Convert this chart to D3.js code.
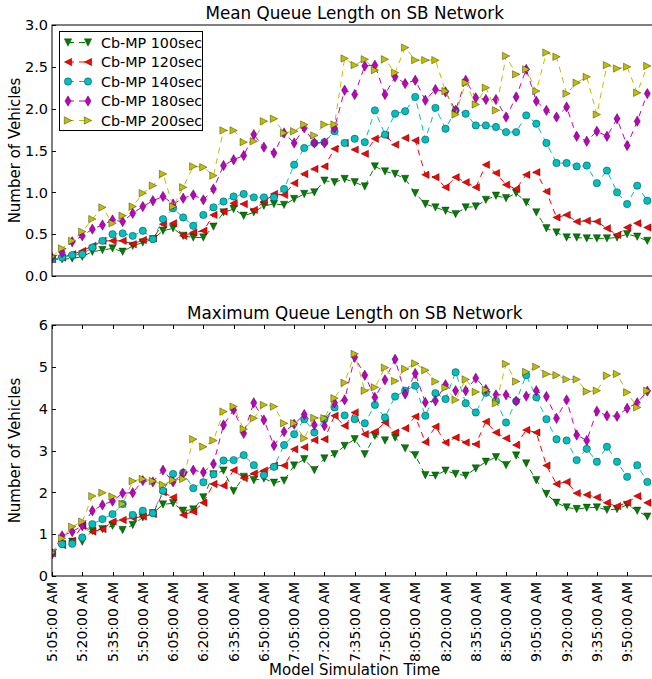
<!DOCTYPE html>
<html><head><meta charset="utf-8">
<script src="https://cdn.jsdelivr.net/npm/d3@7"></script>
<style>
html,body{margin:0;padding:0;background:#fff;}
svg{display:block;font-family:"DejaVu Sans",sans-serif;}
</style></head>
<body>
<svg id="chart" width="652" height="679"></svg>
<script>
// ---------- data ----------
const startMinutes = 5 * 60 + 5;   // 5:05 AM, 5-minute steps
const stepMinutes = 5;
const seriesNames = ["Cb-MP 100sec", "Cb-MP 120sec", "Cb-MP 140sec", "Cb-MP 180sec", "Cb-MP 200sec"];
const tickEvery = 3;

const mean100 = [0.20,0.20,0.21,0.23,0.29,0.31,0.33,0.29,0.36,0.40,0.44,0.54,0.57,0.48,0.46,0.46,0.59,0.76,0.80,0.72,0.76,0.84,0.86,0.85,0.92,0.98,1.00,1.14,1.12,1.16,1.12,1.07,1.31,1.25,1.22,1.16,0.99,0.86,0.82,0.78,0.74,0.82,0.83,0.91,0.96,0.93,0.99,0.88,0.76,0.57,0.52,0.46,0.46,0.45,0.45,0.45,0.46,0.50,0.47,0.42];
const mean120 = [0.20,0.22,0.26,0.30,0.36,0.42,0.42,0.42,0.38,0.43,0.45,0.62,0.63,0.48,0.52,0.54,0.73,0.77,0.87,0.86,0.79,0.89,0.98,0.97,1.11,1.22,1.28,1.31,1.52,1.59,1.51,1.46,1.64,1.68,1.57,1.65,1.62,1.21,1.18,1.06,1.18,1.12,1.06,1.33,1.23,1.09,1.04,1.21,1.24,1.01,0.70,0.73,0.65,0.66,0.65,0.57,0.49,0.58,0.63,0.58];
const mean140 = [0.20,0.22,0.25,0.26,0.34,0.42,0.50,0.51,0.48,0.54,0.44,0.68,0.81,0.70,0.60,0.73,0.82,0.89,0.95,0.98,0.94,0.94,0.94,1.04,1.33,1.53,1.59,1.60,1.73,1.59,1.64,1.60,1.98,1.69,1.94,1.97,2.14,1.63,2.01,1.76,1.98,1.94,1.80,1.80,1.78,1.72,1.72,1.92,1.82,1.59,1.35,1.35,1.31,1.32,1.11,1.26,1.00,0.86,1.08,0.90];
const mean180 = [0.22,0.28,0.41,0.48,0.56,0.61,0.67,0.65,0.75,0.83,0.90,0.95,0.86,0.93,0.97,0.91,1.04,1.32,1.39,1.44,1.69,1.54,1.47,1.71,1.59,1.77,1.59,1.59,1.77,2.22,2.17,2.51,2.52,2.17,2.38,2.30,2.34,2.10,2.23,2.20,1.98,2.34,2.13,2.11,2.11,1.90,2.14,2.47,2.09,1.98,1.90,2.02,1.67,1.61,1.73,1.67,1.88,1.56,1.85,2.18];
const mean200 = [0.23,0.33,0.42,0.53,0.68,0.82,0.63,0.72,0.83,0.99,1.08,1.22,0.83,1.06,1.31,1.30,1.20,1.74,1.74,1.60,1.61,1.85,1.88,1.71,1.73,1.81,1.68,1.81,1.81,2.60,2.52,2.59,2.46,2.59,2.43,2.73,2.58,2.58,2.58,2.21,1.93,2.31,2.05,2.25,1.98,2.63,2.41,2.47,2.21,2.67,2.62,2.18,2.31,2.38,1.93,2.52,2.48,2.50,2.19,2.51];

const max100 = [0.54,0.76,0.82,0.82,1.08,1.12,1.20,1.10,1.22,1.40,1.50,1.71,1.74,1.56,1.59,1.88,2.43,2.52,2.03,2.37,2.29,2.33,2.23,2.28,2.64,2.79,2.53,2.81,2.91,3.11,3.27,2.91,3.35,3.24,3.31,3.05,2.89,2.41,2.40,2.52,2.44,2.40,2.57,2.73,2.84,2.65,2.88,2.69,2.29,1.96,1.75,1.64,1.60,1.63,1.64,1.58,1.60,1.70,1.56,1.42];
const max120 = [0.54,0.74,0.84,1.20,1.06,1.12,1.30,1.34,1.39,1.42,1.48,2.00,1.88,1.46,1.54,1.75,2.20,2.16,2.53,2.34,2.45,2.52,2.64,2.64,3.03,3.08,3.25,3.27,3.83,3.59,3.91,3.39,3.45,3.67,3.43,3.53,3.81,3.20,3.57,3.19,3.31,3.19,3.15,3.69,3.43,3.29,3.13,3.49,3.43,2.64,2.20,2.25,1.98,1.94,1.88,1.75,1.67,1.75,1.91,1.75];
const max140 = [0.55,0.76,0.77,0.92,1.24,1.36,1.48,1.72,1.46,1.56,1.50,2.04,2.44,2.47,2.10,2.24,2.43,2.76,2.77,2.89,2.65,2.41,2.61,3.13,3.39,3.75,3.43,3.75,4.03,3.84,3.75,3.65,4.09,3.79,4.29,4.43,4.55,3.83,4.37,4.23,4.87,4.13,3.91,4.38,4.19,3.67,4.18,4.80,4.27,3.75,3.27,3.24,2.77,3.04,2.73,3.09,2.73,2.37,2.65,2.25];
const max180 = [0.53,0.96,1.06,1.20,1.56,1.70,1.79,1.98,1.99,2.28,2.25,2.53,2.25,2.45,2.53,2.48,2.68,3.61,3.97,3.41,4.14,3.73,3.12,3.45,3.63,3.86,3.61,3.59,4.14,4.21,5.23,4.80,4.27,4.69,5.18,4.35,4.84,4.15,4.19,4.57,4.43,4.43,4.73,4.46,4.33,4.33,4.18,4.30,4.43,4.29,3.77,4.21,3.37,3.24,3.94,3.83,3.82,4.01,4.14,4.42];
const max200 = [0.56,0.90,1.18,1.30,1.91,1.99,1.90,1.72,2.27,2.32,2.27,2.18,2.29,2.32,3.27,3.09,3.24,3.93,4.05,3.51,3.77,4.09,4.05,3.65,3.65,3.29,3.78,3.77,4.25,4.62,5.31,4.43,4.51,4.98,4.66,4.95,5.08,4.92,4.65,4.50,4.21,4.70,4.40,4.45,4.13,5.07,4.65,4.88,5.00,4.83,4.80,4.70,4.70,4.41,4.43,4.79,4.83,4.39,4.03,4.43];

const meanYTicks = [0.0,0.5,1.0,1.5,2.0,2.5,3.0];
const maxYTicks = [0,1,2,3,4,5,6];

// ---------- styles ----------
const colors = ["#008000","#ff0000","#00bfbf","#bf00bf","#bfbf00"];
const shapes = ["down","left","circle","diamond","right"];

function timeLabel(i){
  const m = startMinutes + i*stepMinutes;
  const h = Math.floor(m/60), mm = m%60;
  return h + ":" + String(mm).padStart(2,"0") + ":00 AM";
}

const svg = d3.select("#chart");
const left = 52, right = 657.4;
const nPts = mean100.length;
const x = d3.scaleLinear().domain([0, 60]).range([left, right]);

function markerPath(shape){
  const s = 3.7;
  switch(shape){
    case "down": return `M${-s},${-s}L${s},${-s}L0,${s}Z`;
    case "left": return `M${s},${-s}L${s},${s}L${-s},0Z`;
    case "right": return `M${-s},${-s}L${-s},${s}L${s},0Z`;
    case "diamond": return `M0,-5.2L3.1,0L0,5.2L-3.1,0Z`;
    case "circle": return d3.symbol(d3.symbolCircle, Math.PI*3.7*3.7)();
  }
}

function drawPanel(opts){
  const {top, bottom, yDomain, yTicks, yFmt, title, data, showXTicks, id} = opts;
  const y = d3.scaleLinear().domain(yDomain).range([bottom, top]);
  const g = svg.append("g");
  g.append("defs").append("clipPath").attr("id", id)
    .append("rect").attr("x", left).attr("y", top).attr("width", right-left).attr("height", bottom-top);

  const plot = g.append("g").attr("clip-path", `url(#${id})`);
  const line = d3.line().x((d,i)=>x(i)).y(d=>y(d));
  data.forEach((vals, k)=>{
    const sg = plot.append("g");
    sg.append("path").attr("d", line(vals)).attr("fill","none")
      .attr("stroke", colors[k]).attr("stroke-width",1).attr("stroke-dasharray","6,5");
    sg.selectAll("path.m").data(vals).enter().append("path").attr("class","m")
      .attr("d", markerPath(shapes[k]))
      .attr("transform",(d,i)=>`translate(${x(i)},${y(d)})`)
      .attr("fill", colors[k]).attr("stroke","#000").attr("stroke-width",0.5).attr("stroke-opacity",0.7);
  });

  g.append("rect").attr("x", left).attr("y", top).attr("width", right-left).attr("height", bottom-top)
    .attr("fill","none").attr("stroke","#000").attr("stroke-width",1);

  yTicks.forEach(t=>{
    const yy = Math.round(y(t))+0.5;
    g.append("line").attr("x1",left).attr("x2",left+4).attr("y1",yy).attr("y2",yy).attr("stroke","#000");
    g.append("line").attr("x1",right-4).attr("x2",right).attr("y1",yy).attr("y2",yy).attr("stroke","#000");
    g.append("text").attr("x", left-4).attr("y", y(t)).attr("dy","0.36em")
      .attr("text-anchor","end").attr("font-size",14.5).text(yFmt(t));
  });

  if(showXTicks){
    for(let i=0;i<nPts;i+=tickEvery){
      const xx = Math.round(x(i))+0.5;
      g.append("line").attr("x1",xx).attr("x2",xx).attr("y1",bottom).attr("y2",bottom-4).attr("stroke","#000");
      g.append("line").attr("x1",xx).attr("x2",xx).attr("y1",top).attr("y2",top+4).attr("stroke","#000");
      g.append("text").attr("transform",`translate(${x(i)},${bottom+6}) rotate(-90)`)
        .attr("dy","0.36em").attr("text-anchor","end").attr("font-size",14).text(timeLabel(i));
    }
  }

  g.append("text").attr("x",(left+right)/2).attr("y",top-6).attr("text-anchor","middle")
    .attr("font-size",16.8).text(title);
  g.append("text").attr("transform",`translate(20,${(top+bottom)/2}) rotate(-90)`)
    .attr("text-anchor","middle").attr("font-size",15).text("Number of Vehicles");
  return y;
}

drawPanel({id:"c1", top:25, bottom:276, yDomain:[0,3], yTicks:meanYTicks, yFmt:d3.format(".1f"),
  title:"Mean Queue Length on SB Network", data:[mean100,mean120,mean140,mean180,mean200], showXTicks:false});
drawPanel({id:"c2", top:325, bottom:576, yDomain:[0,6], yTicks:maxYTicks, yFmt:d3.format("d"),
  title:"Maximum Queue Length on SB Network", data:[max100,max120,max140,max180,max200], showXTicks:true});

svg.append("text").attr("x",(left+right)/2).attr("y",675).attr("text-anchor","middle")
  .attr("font-size",15).text("Model Simulation Time");

// legend
const lg = svg.append("g");
lg.append("rect").attr("x",59.5).attr("y",31.5).attr("width",143).attr("height",99)
  .attr("fill","#fff").attr("stroke","#000").attr("stroke-width",1);
seriesNames.forEach((name,k)=>{
  const yy = 42.5 + k*19.5;
  lg.append("line").attr("x1",68).attr("x2",88).attr("y1",yy).attr("y2",yy)
    .attr("stroke",colors[k]).attr("stroke-dasharray","6,5");
  [68,88].forEach(xx=>lg.append("path").attr("d",markerPath(shapes[k]))
    .attr("transform",`translate(${xx},${yy})`).attr("fill",colors[k])
    .attr("stroke","#000").attr("stroke-width",0.5).attr("stroke-opacity",0.7));
  lg.append("text").attr("x",101).attr("y",yy).attr("dy","0.36em").attr("font-size",14.3).text(name);
});
</script>
</body></html>
